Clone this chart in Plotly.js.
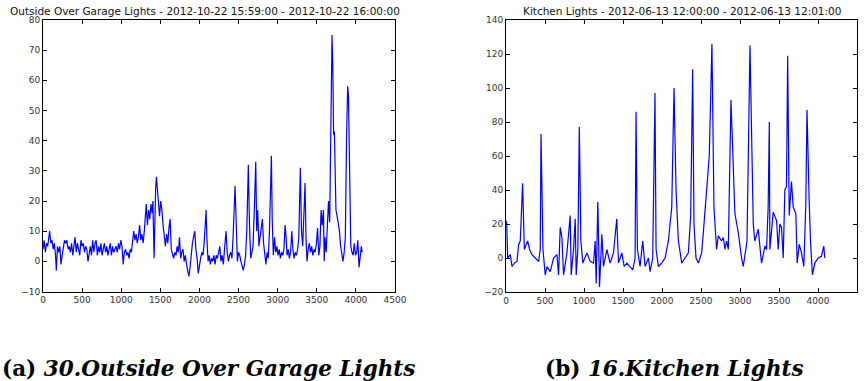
<!DOCTYPE html>
<html>
<head>
<meta charset="utf-8">
<script src="https://cdn.plot.ly/plotly-3.0.1.min.js"></script>
<style>html,body{margin:0;padding:0;background:#fff;}#chart{width:864px;height:381px;}</style>
</head>
<body>
<div id="chart"></div>
<script>
// ---- Data ----
const garageTitle = "Outside Over Garage Lights - 2012-10-22 15:59:00 - 2012-10-22 16:00:00";
const kitchenTitle = "Kitchen Lights - 2012-06-13 12:00:00 - 2012-06-13 12:01:00";
const captionA = "(a)";
const captionAText = "30.Outside Over Garage Lights";
const captionB = "(b)";
const captionBText = "16.Kitchen Lights";

const garageX = [0,15,30,45,60,75,85,100,115,130,145,160,170,185,200,215,230,245,260,275,290,305,320,335,350,365,380,395,410,425,440,455,470,485,500,515,530,545,560,575,590,605,620,635,650,665,680,695,710,725,740,755,770,785,800,815,830,845,860,875,890,905,920,935,950,965,980,995,1010,1025,1040,1055,1070,1085,1100,1115,1130,1145,1160,1175,1190,1205,1220,1235,1250,1265,1280,1295,1310,1320,1335,1350,1365,1380,1395,1405,1420,1430,1440,1450,1460,1475,1490,1505,1520,1535,1550,1565,1580,1595,1610,1625,1640,1655,1670,1685,1700,1715,1730,1745,1760,1775,1790,1805,1820,1835,1850,1865,1880,1895,1910,1925,1940,1955,1970,1985,2000,2015,2030,2045,2060,2075,2085,2095,2110,2125,2140,2155,2170,2185,2200,2215,2230,2245,2260,2275,2290,2305,2320,2340,2355,2370,2385,2400,2415,2430,2455,2470,2485,2500,2515,2530,2545,2560,2575,2590,2605,2625,2640,2655,2670,2685,2705,2720,2732,2745,2760,2775,2790,2805,2820,2835,2850,2865,2880,2895,2910,2920,2930,2945,2960,2975,2990,3005,3020,3035,3050,3065,3080,3095,3105,3120,3135,3150,3165,3180,3195,3210,3225,3240,3255,3270,3290,3305,3320,3335,3350,3362,3375,3390,3405,3420,3435,3450,3465,3480,3495,3510,3525,3540,3555,3570,3585,3595,3605,3620,3635,3650,3665,3680,3695,3705,3715,3725,3735,3745,3760,3775,3790,3805,3820,3835,3850,3865,3880,3895,3905,3920,3935,3950,3965,3980,3995,4010,4025,4040,4055,4070,4080];
const garageY = [4,7,3,6,5,8,10,6,7,4,6,2,-3,5,3,5,-1,2,4,7,6,7,4,5,3,6,2,5,8,3,6,4,2,7,5,6,3,5,4,0,3,5,2,7,3,6,7,2,5,3,6,2,4,6,3,5,2,4,6,2,5,3,4,5,3,6,4,7,5,-1,3,4,2,3,1,4,3,6,10,7,9,6,8,12,7,9,6,10,16,19,12,17,14,19,16,20,1,20,24,28,25,22,15,20,17,12,8,5,9,6,11,14,4,2,1,3,2,5,3,8,1,3,4,0,2,-1,-3,-5,-2,3,6,8,10,4,1,-4,-1,1,3,2,6,12,17,8,0,2,-1,1,0,2,-1,2,1,3,5,0,2,-1,3,10,3,0,2,3,1,8,25,9,0,3,2,0,-2,-3,-1,2,10,32,12,1,3,5,20,33,10,17,5,8,11,14,6,2,-1,3,1,10,28,35,14,2,8,3,5,2,4,1,3,2,4,12,9,2,4,1,3,10,4,1,3,2,4,8,31,10,5,15,26,8,0,4,6,3,5,2,4,3,6,11,2,5,17,12,17,0,8,3,10,20,13,38,75,65,42,43,30,17,15,13,10,5,3,0,3,8,40,58,55,20,5,3,2,6,2,3,7,-2,1,5,3];

const kitchenX = [0,10,21,55,77,107,141,162,183,213,235,260,277,303,333,375,418,439,449,474,503,525,567,610,653,674,695,717,738,781,823,836,866,887,900,921,940,960,985,1037,1079,1122,1143,1156,1177,1199,1229,1250,1293,1335,1378,1420,1442,1485,1515,1549,1591,1625,1655,1667,1685,1719,1753,1783,1826,1847,1881,1910,1924,1954,1997,2039,2082,2125,2154,2180,2210,2253,2295,2338,2368,2393,2410,2436,2466,2508,2530,2572,2606,2640,2666,2700,2722,2764,2786,2807,2828,2850,2884,2935,2978,3020,3042,3090,3128,3170,3190,3234,3255,3276,3320,3340,3361,3376,3383,3426,3469,3490,3511,3532,3554,3575,3596,3611,3631,3660,3682,3716,3733,3759,3789,3818,3843,3859,3886,3904,3929,3959,4002,4044,4074,4087];
const kitchenY = [22,20,0,2,-5,-3,-2,8,10,44,5,8,10,5,2,0,-2,5,73,5,-10,-5,-8,0,2,-10,18,12,-10,3,25,-10,5,23,-10,5,77,10,-3,3,-2,-3,10,-15,33,-17,14,-5,5,-3,3,23,-3,3,-5,-3,-5,-7,0,86,5,-5,10,-5,0,-8,0,97,5,-5,-3,0,10,30,100,40,10,-3,0,3,25,111,20,0,-3,3,15,40,60,126,30,5,13,10,12,5,10,5,93,26,15,0,-5,10,125,20,10,17,5,-3,7,5,30,80,5,27,22,5,20,18,0,40,42,119,25,45,30,26,-3,8,3,-5,30,87,35,10,-10,-3,0,1,7,0];

// ---- Layout geometry ----
const W = 864, H = 381;
const px = v => v / W;
const py = v => 1 - v / H;

const axisCommon = {
  showline: true, linecolor: '#000', linewidth: 1, mirror: 'allticks',
  ticks: 'inside', ticklen: 4, tickcolor: '#000', tickwidth: 1,
  showgrid: false, zeroline: false,
  tickfont: {family: 'DejaVu Sans', size: 9, color: '#333'}
};

const traces = [
  {x: garageX, y: garageY, type: 'scatter', mode: 'lines', xaxis: 'x', yaxis: 'y',
   line: {color: '#0000ff', width: 1.2}, hoverinfo: 'skip'},
  {x: kitchenX, y: kitchenY, type: 'scatter', mode: 'lines', xaxis: 'x2', yaxis: 'y2',
   line: {color: '#0000ff', width: 1.2}, hoverinfo: 'skip'}
];

const layout = {
  width: W, height: H,
  margin: {l: 0, r: 0, t: 0, b: 0},
  paper_bgcolor: '#fff', plot_bgcolor: '#fff',
  showlegend: false,
  xaxis: Object.assign({}, axisCommon, {domain: [px(43), px(395)], range: [0, 4500], dtick: 500, anchor: 'y'}),
  yaxis: Object.assign({}, axisCommon, {domain: [py(291.5), py(20)], range: [-10, 80], dtick: 10, anchor: 'x'}),
  xaxis2: Object.assign({}, axisCommon, {domain: [px(506), px(857)], range: [0, 4500], dtick: 500, anchor: 'y2'}),
  yaxis2: Object.assign({}, axisCommon, {domain: [py(292), py(20)], range: [-20, 140], dtick: 20, anchor: 'x2'}),
  annotations: [
    {text: garageTitle, xref: 'paper', yref: 'paper', x: px(205), y: py(11), xanchor: 'center', yanchor: 'middle',
     showarrow: false, font: {family: 'DejaVu Sans', size: 10.5, color: '#111'}},
    {text: kitchenTitle, xref: 'paper', yref: 'paper', x: px(682), y: py(11), xanchor: 'center', yanchor: 'middle',
     showarrow: false, font: {family: 'DejaVu Sans', size: 10.5, color: '#111'}},
    {text: '<b>' + captionA + ' <i>' + captionAText + '</i></b>', xref: 'paper', yref: 'paper', x: px(0), y: py(368),
     xanchor: 'left', yanchor: 'middle', showarrow: false, font: {family: 'DejaVu Serif', size: 21.5, color: '#000'}},
    {text: '<b>' + captionB + ' <i>' + captionBText + '</i></b>', xref: 'paper', yref: 'paper', x: px(543), y: py(368),
     xanchor: 'left', yanchor: 'middle', showarrow: false, font: {family: 'DejaVu Serif', size: 21.5, color: '#000'}}
  ]
};

Plotly.newPlot('chart', traces, layout, {staticPlot: true, displayModeBar: false});
</script>
</body>
</html>
